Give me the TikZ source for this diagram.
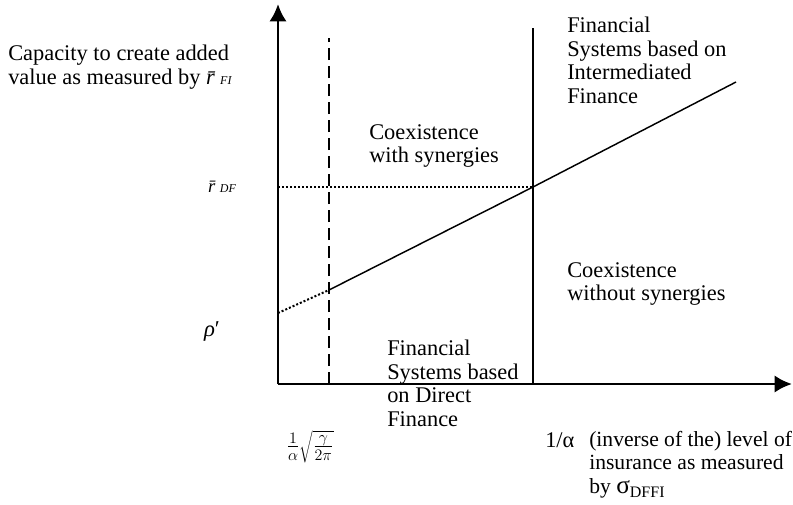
\documentclass[tikz,border=0pt]{standalone}
\usepackage{fontspec}
\setmainfont{Liberation Serif}
\usetikzlibrary{arrows.meta}

\begin{document}
\begin{tikzpicture}[x=0.75pt,y=-0.75pt]
\tikzset{>={Latex[length=13pt,width=13pt]}}
\tikzset{txt/.style={anchor=north west,align=left,inner sep=0pt,
  font=\fontsize{16.8}{17.6}\selectfont,execute at begin node=\strut},
  sym/.style={inner sep=0pt,font=\fontsize{14}{16}\selectfont},
  dotline/.style={line width=1.5pt,dash pattern=on 1.5pt off 1.5pt}}

\useasboundingbox (0,0) rectangle (793,504);

\coordinate (O) at (278,384);
\coordinate (ytop) at (278,4);
\coordinate (xend) at (792,384);
\coordinate (dtop) at (329,38);
\coordinate (dbot) at (329,384);
\coordinate (stop) at (533,28);
\coordinate (sbot) at (533,384);
\coordinate (rho0) at (278,313);
\coordinate (kink) at (329,290);
\coordinate (cross) at (533,187);
\coordinate (rDF0) at (278,187);
\coordinate (lend) at (736,82);

% axes
\draw[->,line width=2.2pt] (O) -- (ytop);
\draw[->,line width=2.2pt] (O) -- (xend);

% thresholds
\draw[line width=1.5pt,dash pattern=on 9pt off 4.5pt] (dbot) -- (dtop);
\draw[line width=1.1pt] (sbot) -- (stop);

% return line
\draw[dotline] (rho0) -- (kink);
\draw[line width=1.1pt] (kink) -- (cross) -- (lend);
\draw[dotline] (rDF0) -- (cross);

% labels
\node[txt] (cap) at (8,45) {Capacity to create added\\value as measured by
  \textit{\=r}{\fontsize{9}{9}\selectfont\textit{FI}}};
\node[sym] (rdf) at (222,187) {\textit{\=r}{\fontsize{9}{9}\selectfont\textit{DF}}};
\node[sym,font=\fontsize{17}{18}\selectfont] (rho) at (212,331) {\textit{ρ}′};
\node[txt] (coex) at (369,124) {Coexistence\\with synergies};
\node[txt] (intfin) at (567,17) {Financial\\Systems based on\\Intermediated\\Finance};
\node[txt] (coexno) at (567,262) {Coexistence\\without synergies};
\node[txt] (dirfin) at (387,340) {Financial\\Systems based\\on Direct\\Finance};
\node[sym,font=\fontsize{16.5}{18}\selectfont] (fr) at (310,447) {$\frac{1}{\alpha}\sqrt{\frac{\gamma}{2\pi}}$};
\node[txt] (inva) at (545,431) {1/α};
\node[txt,font=\fontsize{16.2}{17.6}\selectfont] (insur) at (589,431) {(inverse of the) level of\\insurance as measured\\by {\fontsize{19}{19}\selectfont σ}\raisebox{-0.4ex}{\fontsize{12}{12}\selectfont DFFI}};

\end{tikzpicture}
\end{document}
